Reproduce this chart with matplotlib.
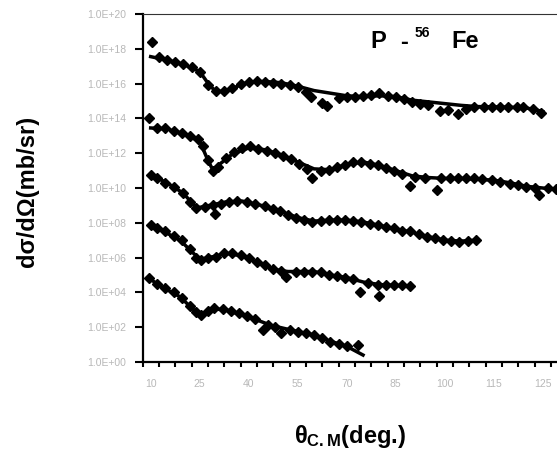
import numpy as np
import matplotlib
matplotlib.use("Agg")
import matplotlib.pyplot as plt
from matplotlib.ticker import FixedLocator, FixedFormatter, NullLocator

plt.rcParams['font.family'] = ['Liberation Sans', 'DejaVu Sans']
plt.rcParams['mathtext.fontset'] = 'custom'
plt.rcParams['mathtext.rm'] = 'Liberation Sans'
plt.rcParams['mathtext.bf'] = 'Liberation Sans:bold'
plt.rcParams['mathtext.it'] = 'Liberation Sans:italic'

# ---------------- data (log10 of dσ/dΩ in mb/sr) ----------------
# series 1 (top): theory line and experimental points
th1_x = [10, 15, 20, 25, 28, 30, 33, 36, 40, 45, 50, 55, 60, 65, 70, 75, 80, 85, 90, 95, 100, 105, 110, 115, 120, 125, 130]
th1_y = [17.55, 17.35, 17.1, 16.7, 15.9, 15.55, 15.55, 15.8, 16.1, 16.12, 16.05, 15.85, 15.6, 15.45, 15.3, 15.25, 15.3, 15.25, 15.05, 14.95, 14.85, 14.75, 14.68, 14.66, 14.64, 14.6, 14.4]
ex1_x = [10.4, 12.5, 15, 17.5, 20, 22.5, 25, 27.5, 30, 32.5, 35, 37.5, 40, 42.5, 45, 47.5, 50, 52.5, 55, 57.5, 59, 62.5, 64, 67.5, 70, 72.5, 75, 77.5, 80, 82.5, 85, 87.5, 90, 92.5, 95, 98.5, 101, 104, 106.5, 109, 112, 114.5, 117, 119.5, 122, 124, 127, 129.5]
ex1_y = [18.4, 17.5, 17.38, 17.25, 17.1, 16.95, 16.65, 15.9, 15.6, 15.6, 15.75, 15.95, 16.1, 16.15, 16.12, 16.05, 16.0, 15.9, 15.8, 15.5, 15.25, 14.9, 14.7, 15.2, 15.25, 15.25, 15.3, 15.35, 15.45, 15.3, 15.25, 15.1, 14.95, 14.85, 14.75, 14.4, 14.5, 14.25, 14.55, 14.67, 14.67, 14.67, 14.65, 14.67, 14.65, 14.67, 14.55, 14.3]

# series 2
th2_x = [10, 15, 20, 25, 27.5, 29, 32, 35, 40, 45, 50, 55, 60, 65, 70, 75, 80, 85, 90, 95, 100, 105, 110, 115, 120, 125, 130, 135]
th2_y = [13.45, 13.4, 13.1, 12.7, 11.6, 11.05, 11.5, 11.95, 12.3, 12.2, 11.9, 11.5, 11.1, 11.05, 11.35, 11.5, 11.3, 11.0, 10.7, 10.6, 10.55, 10.55, 10.5, 10.45, 10.3, 10.1, 10.0, 9.9]
ex2_x = [9.5, 12, 14.5, 17, 19.5, 22, 24.5, 26, 27.5, 29, 30.5, 33, 35.5, 38, 40.5, 43, 45.5, 48, 50.5, 53, 55.5, 58, 59.5, 62, 64.5, 67, 69.5, 72, 74.5, 77, 79.5, 82, 84.5, 87, 89.5, 91, 94, 97.5, 99, 101.5, 104, 106.5, 109, 111.5, 114.5, 117, 120, 122.5, 125, 127.5, 129, 131.5, 134]
ex2_y = [14.0, 13.45, 13.45, 13.3, 13.15, 13.0, 12.8, 12.4, 11.6, 11.0, 11.2, 11.7, 12.05, 12.3, 12.4, 12.25, 12.15, 12.0, 11.85, 11.65, 11.4, 11.1, 10.6, 11.0, 11.05, 11.2, 11.35, 11.5, 11.5, 11.4, 11.3, 11.15, 11.0, 10.8, 10.1, 10.65, 10.6, 9.9, 10.55, 10.55, 10.55, 10.55, 10.55, 10.5, 10.45, 10.35, 10.25, 10.15, 10.05, 10.0, 9.6, 9.98, 9.95]

# series 3
th3_x = [10, 15, 20, 24, 28, 33, 38, 45, 50, 55, 60, 65, 70, 75, 80, 85, 90, 95, 100, 105, 110]
th3_y = [10.75, 10.3, 9.7, 8.85, 9.0, 9.2, 9.25, 8.95, 8.65, 8.3, 8.1, 8.15, 8.15, 8.05, 7.85, 7.65, 7.45, 7.2, 7.0, 6.95, 7.0]
ex3_x = [10, 12, 14.5, 17, 20, 22, 24, 26.5, 29, 29.7, 31.5, 34, 36.5, 39.5, 42, 45, 47.5, 49.5, 52, 54.5, 57, 59.5, 62, 64.5, 67, 69.5, 72, 74.5, 77, 79.5, 82, 84.5, 87, 89.5, 92, 94.5, 97, 99.5, 102, 104.5, 107, 109.5]
ex3_y = [10.75, 10.55, 10.3, 10.05, 9.7, 9.2, 8.85, 8.9, 9.0, 8.5, 9.1, 9.2, 9.25, 9.2, 9.1, 8.95, 8.8, 8.65, 8.45, 8.25, 8.15, 8.05, 8.1, 8.15, 8.15, 8.15, 8.1, 8.05, 7.95, 7.85, 7.75, 7.7, 7.55, 7.5, 7.35, 7.2, 7.1, 7.0, 6.95, 6.9, 6.95, 7.0]

# series 4
th4_x = [10, 14, 19, 22, 25, 29, 33, 38, 43, 48, 52, 55, 60, 65, 70, 75, 80, 85, 90]
th4_y = [7.85, 7.5, 7.0, 6.45, 5.9, 6.05, 6.25, 6.1, 5.7, 5.3, 5.2, 5.2, 5.2, 5.0, 4.85, 4.6, 4.45, 4.4, 4.35]
ex4_x = [10, 12, 14.5, 17, 19.5, 22, 24, 25.5, 27.5, 30, 32.5, 35, 37.5, 40, 42.5, 45, 47.5, 50, 51.5, 54.5, 57, 59.5, 62, 64.5, 67, 69.5, 72, 74, 76.5, 79.5, 80, 82, 84.5, 87, 89.5]
ex4_y = [7.9, 7.7, 7.5, 7.25, 7.0, 6.5, 6.0, 5.85, 5.95, 6.05, 6.25, 6.25, 6.15, 5.95, 5.75, 5.55, 5.35, 5.25, 4.9, 5.2, 5.2, 5.2, 5.15, 5.0, 4.95, 4.85, 4.75, 4.0, 4.55, 4.45, 3.8, 4.45, 4.4, 4.4, 4.35]

# series 5 (bottom)
th5_x = [9.5, 14, 19, 22, 25, 29, 33, 38, 42, 47, 55, 60, 65, 70, 75]
th5_y = [4.8, 4.25, 3.75, 3.2, 2.7, 3.05, 3.0, 2.7, 2.45, 2.1, 1.75, 1.55, 1.2, 0.9, 0.4]
ex5_x = [9.5, 12, 14.5, 17, 19.5, 22, 24, 25.5, 27.5, 29.5, 32, 34.5, 37, 39.5, 42, 44.5, 46, 48, 50, 52.5, 55, 57.5, 60, 62.5, 65, 67.5, 70, 73.5]
ex5_y = [4.8, 4.5, 4.25, 4.0, 3.7, 3.2, 2.85, 2.7, 2.95, 3.1, 3.05, 2.95, 2.8, 2.65, 2.45, 1.85, 2.15, 2.0, 1.65, 1.85, 1.75, 1.65, 1.55, 1.4, 1.15, 1.05, 0.9, 0.98]

x_tick_values = [10, 25, 40, 55, 70, 85, 100, 115, 130]
x_tick_labels = ["10", "25", "40", "55", "70", "85", "100", "115", "125"]
y_tick_exponents = [0, 2, 4, 6, 8, 10, 12, 14, 16, 18, 20]
y_tick_labels = ["1.0E+%02d" % e for e in y_tick_exponents]

x_label = r"$\mathbf{θ}_{\mathbf{C.M}}$(deg.)"
y_label = "dσ/dΩ(mb/sr)"

# ---------------- figure ----------------
W, H = 557, 454
fig = plt.figure(figsize=(W / 100, H / 100), dpi=100)
left_px, top_px, bot_px = 142.5, 14, 362
xmin, xmax = 7.5, 137.5
px_per_deg = 3.267
width_px = (xmax - xmin) * px_per_deg
ax = fig.add_axes([left_px / W, (H - bot_px) / H, width_px / W, (bot_px - top_px) / H])

series = [(th1_x, th1_y, ex1_x, ex1_y), (th2_x, th2_y, ex2_x, ex2_y),
          (th3_x, th3_y, ex3_x, ex3_y), (th4_x, th4_y, ex4_x, ex4_y),
          (th5_x, th5_y, ex5_x, ex5_y)]
for tx, ty, ex, ey in series:
    ax.plot(tx, 10 ** np.array(ty), color='black', lw=2.5, zorder=3)
    ax.plot(ex, 10 ** np.array(ey), ls='none', marker='D', ms=5.0,
            color='black', mec='black', zorder=4)

ax.set_yscale('log')
ax.set_ylim(1, 1e20)
ax.set_xlim(xmin, xmax)

ax.yaxis.set_major_locator(FixedLocator([10.0 ** e for e in y_tick_exponents]))
ax.yaxis.set_major_formatter(FixedFormatter(y_tick_labels))
ax.yaxis.set_minor_locator(NullLocator())
ax.tick_params(axis='y', which='major', direction='out', length=6, width=1.5,
               labelsize=7.5, pad=5.5, colors='black')
ax.tick_params(axis='y', labelcolor='#b8b8b8')

ax.xaxis.set_major_locator(FixedLocator(x_tick_values))
ax.xaxis.set_major_formatter(FixedFormatter(x_tick_labels))
ax.xaxis.set_minor_locator(FixedLocator(list(np.arange(7.5, 140, 5.0))))
ax.tick_params(axis='x', which='major', length=0, pad=12, labelsize=7.5)
ax.tick_params(axis='x', labelcolor='#b8b8b8')
ax.tick_params(axis='x', which='minor', direction='out', length=3.5, width=1.5, color='black')

ax.spines['left'].set_linewidth(1.6)
ax.spines['bottom'].set_linewidth(1.6)
ax.spines['top'].set_linewidth(0.8)
ax.spines['top'].set_color('#333333')
ax.spines['right'].set_visible(False)

# title "P -56 Fe" drawn in pieces to match the spacing of the reference
fig.text(378 / W, 1 - 41 / H, "P", fontsize=17, fontweight='bold', ha='center', va='center')
fig.text(404 / W, 1 - 43 / H, "-", fontsize=17, fontweight='bold', ha='center', va='center')
fig.text(422 / W, 1 - 33 / H, "56", fontsize=10, fontweight='bold', ha='center', va='center')
fig.text(465 / W, 1 - 41 / H, "Fe", fontsize=17, fontweight='bold', ha='center', va='center')

fig.text(350 / W, 1 - 437 / H, x_label, fontsize=17, fontweight='bold',
         ha='center', va='center')
fig.text(28 / W, 1 - 191 / H, y_label, fontsize=17, fontweight='bold',
         ha='center', va='center', rotation=90)

fig.savefig("out.png", dpi=100)
